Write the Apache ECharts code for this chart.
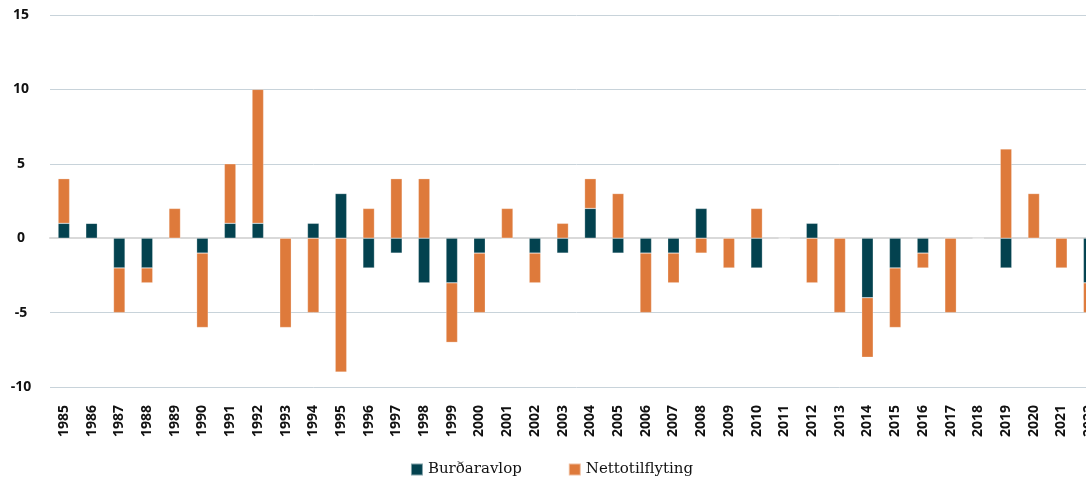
<!DOCTYPE html>
<html>
<head>
<meta charset="utf-8">
<script src="https://cdn.jsdelivr.net/npm/echarts@6/dist/echarts.min.js"></script>
<style>
  html, body { margin: 0; padding: 0; background: #fff; overflow: hidden; }
  #chart { width: 1103px; height: 484px; }
</style>
</head>
<body>
<div id="chart"></div>
<script>
const years = [
  '1985', '1986', '1987', '1988', '1989', '1990', '1991', '1992', '1993', '1994',
  '1995', '1996', '1997', '1998', '1999', '2000', '2001', '2002', '2003', '2004',
  '2005', '2006', '2007', '2008', '2009', '2010', '2011', '2012', '2013', '2014',
  '2015', '2016', '2017', '2018', '2019', '2020', '2021', '2022'
];
const burdaravlop = [
  1, 1, -2, -2, 0, -1, 1, 1, 0, 1,
  3, -2, -1, -3, -3, -1, 0, -1, -1, 2,
  -1, -1, -1, 2, 0, -2, 0, 1, 0, -4,
  -2, -1, 0, 0, -2, 0, 0, -3
];
const nettotilflyting = [
  3, 0, -3, -1, 2, -5, 4, 9, -6, -5,
  -9, 2, 4, 4, -4, -4, 2, -2, 1, 2,
  3, -4, -2, -1, -2, 2, 0, -3, -5, -4,
  -4, -1, -5, 0, 6, 3, -2, -2
];

const chart = echarts.init(document.getElementById('chart'));

const barStyle = (color) => ({
  color: color,
  borderColor: 'rgba(255,255,255,0.5)',
  borderWidth: 0.5
});

chart.setOption({
  animation: false,
  grid: { left: 50, right: 0, top: 15, bottom: 97 },
  legend: {
    bottom: 2,
    left: 'center',
    itemWidth: 12,
    itemHeight: 12,
    itemGap: 46,
    icon: 'rect',
    textStyle: { fontFamily: 'DejaVu Serif', fontSize: 15, color: '#111' },
    data: ['Burðaravlop', 'Nettotilflyting']
  },
  xAxis: {
    type: 'category',
    data: years,
    axisTick: { show: false },
    axisLine: { onZero: true, lineStyle: { color: '#d9d9d9', width: 2 } },
    axisLabel: {
      rotate: 90,
      interval: 0,
      fontFamily: 'Open Sans',
      fontWeight: 'bold',
      fontSize: 14,
      color: '#111',
      margin: 18,
      verticalAlign: 'middle',
      align: 'right'
    }
  },
  yAxis: {
    type: 'value',
    min: -10,
    max: 15,
    interval: 5,
    axisLine: { show: false },
    axisTick: { show: false },
    axisLabel: {
      fontFamily: 'Open Sans',
      fontWeight: 'bold',
      fontSize: 14,
      color: '#111',
      align: 'center',
      margin: 29
    },
    splitLine: { lineStyle: { color: '#c8d3da', width: 1 } }
  },
  series: [
    {
      name: 'Burðaravlop',
      type: 'bar',
      stack: 'total',
      barWidth: 11.5,
      itemStyle: barStyle('#03424f'),
      data: burdaravlop
    },
    {
      name: 'Nettotilflyting',
      type: 'bar',
      stack: 'total',
      barWidth: 11.5,
      itemStyle: barStyle('#de7a3b'),
      data: nettotilflyting
    }
  ]
});
</script>
</body>
</html>
